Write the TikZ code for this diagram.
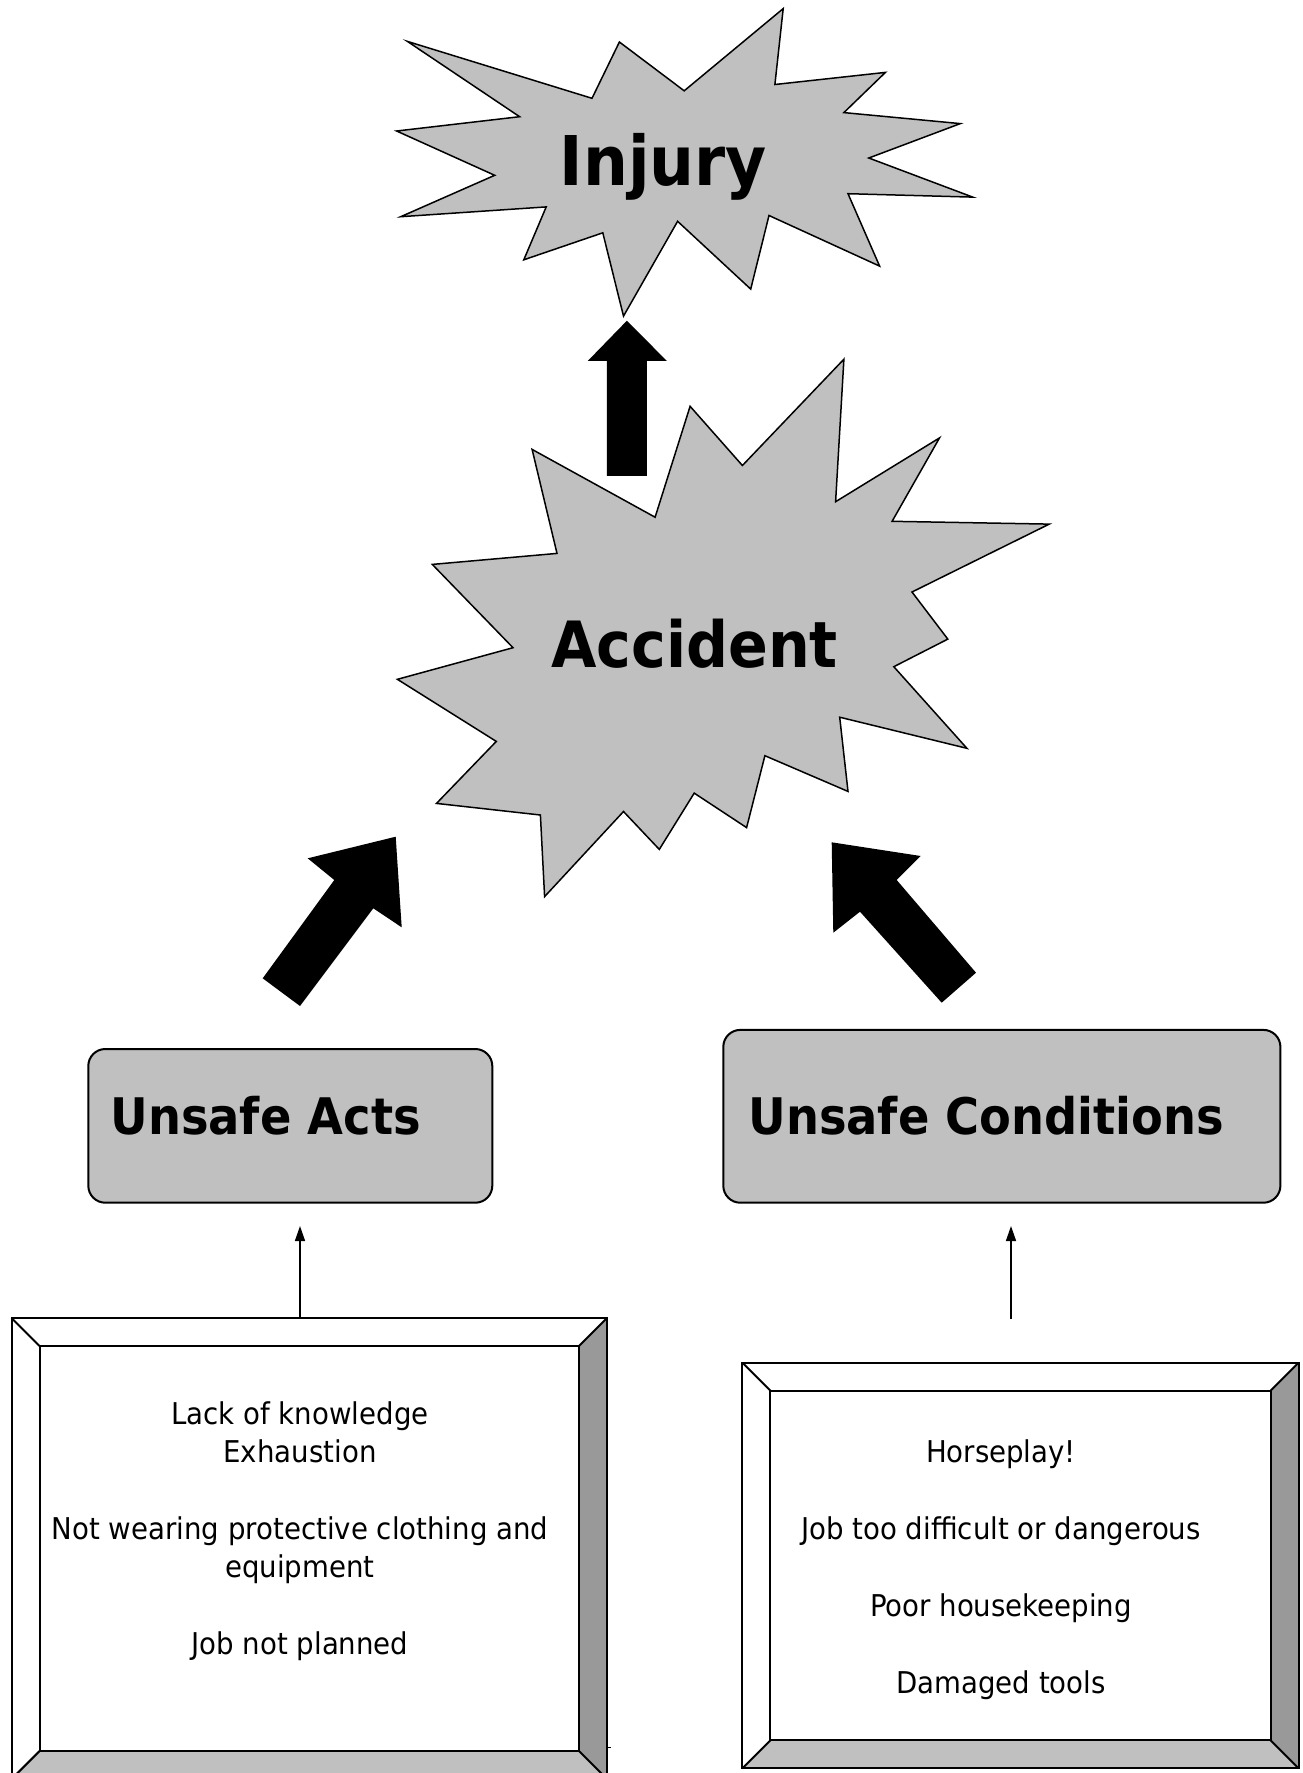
\documentclass[tikz,border=0pt]{standalone}
\usepackage{fontspec}
\setmainfont{DejaVu Sans}[FakeStretch=0.92]
\usepackage{xcolor}
\usepackage{tikz}
\usetikzlibrary{arrows.meta}
\usetikzlibrary{positioning}
\definecolor{burstgray}{HTML}{C0C0C0}
\definecolor{bevelgray}{HTML}{999999}
\tikzset{
burst/.style = { draw = black, fill = burstgray, line width = 0.75pt, line join = miter },
fat arrow/.style = { fill = black },
cause box/.style = { rectangle, draw = black, fill = burstgray, line width = 1pt, rounded corners = 8.5pt },
box title/.style = { font = \bfseries\fontsize{25.2}{30}\selectfont, anchor = base west, inner sep = 0pt },
burst title/.style = { font = \bfseries\fontsize{#1}{40}\selectfont, anchor = base, inner sep = 0pt },
list item/.style = { font = \fontsize{15}{18}\selectfont, anchor = base, inner sep = 0pt },
thin arrow/.style = { -{Triangle[length = 7.5pt, width = 5pt]}, line width = 0.75pt, shorten > = 11.15pt },
}
\tikzset{
pics/bevel frame/.style args={#1, #2}{
        code = {
        \path[fill = bevelgray] (#1, 0) -- (#1, #2) -- (#1-28, #2-28) -- (#1-28, 28) -- cycle;
        \path[fill = burstgray] (0, #2) -- (#1, #2) -- (#1-28, #2-28) -- (28, #2-28) -- cycle;
        \draw[line width = 1pt] (0, 0) rectangle (#1, #2);
        \draw[line width = 1pt] (28, 28) rectangle (#1-28, #2-28);
        \draw[line width = 1pt] (0, 0) -- (28, 28) (#1, 0) -- (#1-28, 28) (0, #2) -- (28, #2-28) (#1, #2) -- (#1-28, #2-28);
        }
    }
}
\begin{document}
\begin{tikzpicture}[x = 0.5pt, y = -0.5pt]
    \useasboundingbox (0, 0) rectangle (1302, 1773);
    \clip (0, 0) rectangle (1302, 1773);
    % injury burst
    \draw[burst] (783.2, 8.6) -- (774.9, 84.5) -- (885.4, 72.4) -- (843.9, 112.6) -- (960.3, 123.6) -- (868.8, 158.0) -- (972.7, 197.1) -- (848.0, 193.7) -- (879.6, 266.1) -- (769.0, 215.5) -- (750.7, 289.1) -- (677.6, 221.3) -- (623.5, 316.1) -- (602.8, 232.8) -- (523.8, 259.8) -- (546.2, 206.9) -- (400.7, 216.7) -- (494.7, 175.3) -- (396.6, 131.0) -- (519.6, 116.7) -- (407.4, 41.4) -- (592.0, 98.3) -- (619.4, 42.0) -- (684.2, 90.8) -- cycle;
    \node[burst title = 34.3] (injury) at (663.5, 185.5) {Injury};
    % accident burst
    \draw[burst] (843.9, 359.2) -- (835.6, 501.7) -- (939.5, 437.9) -- (892.1, 521.3) -- (1049.2, 524.1) -- (912.0, 592.0) -- (947.8, 639.1) -- (893.8, 666.7) -- (966.9, 748.3) -- (839.7, 717.2) -- (848.0, 791.4) -- (764.9, 755.7) -- (746.6, 827.6) -- (694.2, 793.1) -- (659.3, 849.4) -- (623.5, 811.5) -- (544.6, 896.6) -- (540.4, 815.0) -- (436.5, 803.4) -- (496.3, 741.4) -- (397.4, 679.3) -- (513.0, 647.7) -- (432.3, 564.4) -- (557.0, 553.4) -- (532.1, 449.4) -- (655.1, 517.2) -- (690.1, 406.3) -- (742.4, 465.5) -- cycle;
    \node[burst title = 31.9] (accident) at (694.5, 667) {Accident};
    % big arrows
    \fill[fat arrow] (626.9, 320.7) -- (666.8, 360.9) -- (646.8, 360.9) -- (646.8, 475.9) -- (606.9, 475.9) -- (606.9, 360.9) -- (587.8, 360.9) -- cycle;
    \fill[fat arrow] (395.7, 836.7) -- (401.7, 927.3) -- (373.3, 908.3) -- (300, 1006) -- (262.7, 978.3) -- (334.3, 880) -- (307.7, 858.3) -- cycle;
    \fill[fat arrow] (831.7, 842.3) -- (920.7, 856) -- (896.7, 880) -- (976, 972.7) -- (941.7, 1002.7) -- (860, 911.7) -- (833.3, 932.7) -- cycle;
    % cause boxes
    \node[cause box, minimum width = 202pt, minimum height = 76.85pt] (actsbox) at (290.3, 1125.85) {};
    \node[box title] (actslabel) at (110, 1134.5) {Unsafe Acts};
    \node[cause box, minimum width = 278.55pt, minimum height = 86.4pt] (condbox) at (1001.85, 1116.3) {};
    \node[box title] (condlabel) at (748, 1134.5) {Unsafe Conditions};
    % framed lists
    \draw (11.6, 1318) pic{bevel frame = {595.4, 461}};
    \draw (742.4, 1362.7) pic{bevel frame = {556.2, 405.7}};
    \draw[line width = 0.5pt] (607, 1747.7) -- (611, 1747.7);
    \node[list item] (acts1) at (300, 1424.3) {Lack of knowledge};
    \node[list item] (acts2) at (300, 1462.7) {Exhaustion};
    \node[list item] (acts3) at (300, 1539.5) {Not wearing protective clothing and};
    \node[list item] (acts4) at (300, 1577.9) {equipment};
    \node[list item] (acts5) at (300, 1654.7) {Job not planned};
    \node[list item] (cond1) at (1001, 1462.7) {Horseplay!};
    \node[list item] (cond2) at (1001, 1539.5) {Job too difficult or dangerous};
    \node[list item] (cond3) at (1001, 1616.3) {Poor housekeeping};
    \node[list item] (cond4) at (1001, 1693.1) {Damaged tools};
    % feeds
    \coordinate (actsfeed) at (300, 1318);
    \coordinate (condfeed) at (1011, 1319);
    \draw[thin arrow] (actsfeed) -- (actsbox.south -| actsfeed);
    \draw[thin arrow] (condfeed) -- (condbox.south -| condfeed);
\end{tikzpicture}
\end{document}
